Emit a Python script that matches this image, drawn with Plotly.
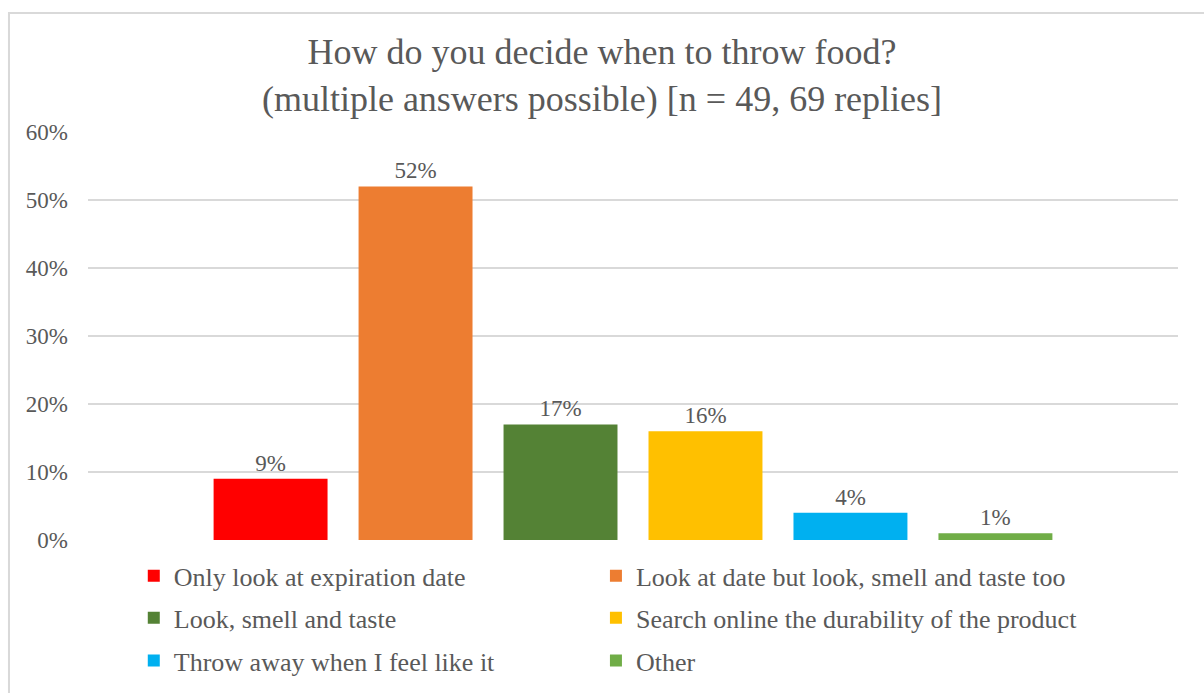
import plotly.graph_objects as go

# Survey answers: one cluster of bars, one series per answer
answers = [
    "Only look at expiration date",
    "Look at date but look, smell and taste too",
    "Look, smell and taste",
    "Search online the durability of the product",
    "Throw away when I feel like it",
    "Other",
]
shares = [0.09, 0.52, 0.17, 0.16, 0.04, 0.01]
colors = ["#FF0000", "#ED7D31", "#548235", "#FFC000", "#00B0F0", "#70AD47"]
category = [""]
y_ticks = [0, 0.1, 0.2, 0.3, 0.4, 0.5, 0.6]

FONT = "Liberation Serif, Times New Roman, serif"
GREY = "#595959"

# legend laid out as a 2-column grid: one legend box per entry
legend_ids = ["legend", "legend2", "legend3", "legend4", "legend5", "legend6"]
col_x = [0.042, 0.466]
row_y = [-0.030, -0.133, -0.238]

fig = go.Figure()
for name, val, col, lg in zip(answers, shares, colors, legend_ids):
    fig.add_trace(go.Bar(
        x=category, y=[val], name=name, legend=lg,
        marker=dict(color=col, line=dict(width=0)),
        text=[val], texttemplate="%{y:.0%}", textposition="outside",
        textfont=dict(family=FONT, size=23, color=GREY),
        cliponaxis=False,
    ))

legend_style = dict(
    orientation="h", xanchor="left", yanchor="top",
    font=dict(family=FONT, size=26, color=GREY),
    bgcolor="rgba(0,0,0,0)",
)
legends = {}
for i, lg in enumerate(legend_ids):
    legends[lg] = dict(legend_style, x=col_x[i % 2], y=row_y[i // 2])

fig.update_layout(
    width=1204, height=693,
    margin=dict(l=88, r=26, t=132, b=153, autoexpand=False),
    paper_bgcolor="white", plot_bgcolor="white",
    barmode="group", bargap=0.202, bargroupgap=0.214,
    title=dict(
        text="How do you decide when to throw food?<br>(multiple answers possible) [n = 49, 69 replies]",
        x=0.5, xanchor="center", y=0.907, yanchor="middle",
        font=dict(family=FONT, size=36, color=GREY),
    ),
    xaxis=dict(showticklabels=False, showgrid=False, zeroline=False, showline=False),
    yaxis=dict(
        range=[0, 0.6], tickvals=y_ticks, tickformat=".0%",
        showgrid=True, gridcolor="#D9D9D9", gridwidth=2,
        zeroline=False, showline=False, ticks="",
        ticklabelstandoff=19,
        tickfont=dict(family=FONT, size=23, color=GREY),
    ),
    showlegend=True,
    shapes=[dict(
        type="rect", xref="paper", yref="paper",
        x0=-0.0725, x1=1.03, y0=-0.4, y1=1.2917,
        line=dict(color="#D9D9D9", width=2), fillcolor="rgba(0,0,0,0)", layer="below",
    )],
    **legends,
)

fig.write_html("out.html")
